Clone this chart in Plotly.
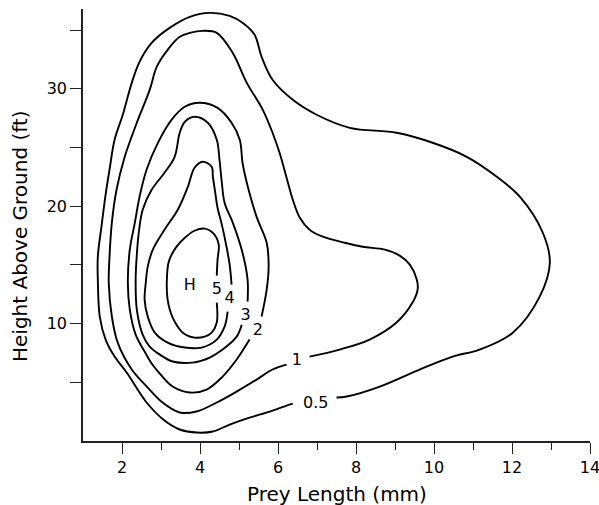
import plotly.graph_objects as go

# Contour lines (x = prey length mm, y = height ft)
c05_x = [7.50, 7.76, 8.61, 9.63, 10.48, 11.17, 12.02, 12.71, 12.97, 12.79, 12.20, 11.61, 10.84, 9.89, 9.04, 7.84,
         6.99, 6.38, 5.86, 5.58, 5.40, 5.09, 4.76, 4.25, 3.74, 3.22, 2.76, 2.45, 2.25, 2.02, 1.81, 1.68, 1.58, 1.48,
         1.38, 1.38, 1.43, 1.58, 1.81, 2.12, 2.63, 3.09, 3.48, 3.92, 4.33, 4.76, 5.27, 5.79, 6.22, 6.38]
c05_y = [3.70, 3.79, 4.64, 6.09, 7.19, 7.79, 9.23, 12.30, 15.19, 17.74, 20.81, 22.51, 24.21, 25.49, 26.26, 26.68,
         27.79, 29.06, 30.77, 32.72, 34.60, 35.62, 36.21, 36.47, 36.13, 35.19, 33.91, 32.30, 30.51, 27.79, 25.66,
         23.11, 20.98, 18.43, 15.70, 13.74, 10.60, 8.64, 7.19, 5.83, 3.28, 1.74, 0.98, 0.72, 0.81, 1.40, 1.99, 2.50,
         3.02, 3.19]

c1_x = [6.81, 7.58, 8.35, 9.04, 9.45, 9.58, 9.56, 9.38, 9.12, 8.74, 8.17, 7.71, 7.15, 6.81, 6.56, 6.38, 6.22, 6.04,
        5.86, 5.61, 5.20, 4.84, 4.43, 4.07, 3.74, 3.48, 3.17, 2.89, 2.71, 2.38, 2.07, 1.86, 1.74, 1.68, 1.66, 1.74,
        1.89, 2.25, 2.66, 3.04, 3.48, 3.91, 4.43, 4.94, 5.45, 5.86, 6.22]
c1_y = [7.19, 7.79, 8.64, 10.09, 11.79, 12.89, 13.74, 15.02, 15.79, 16.30, 16.55, 16.89, 17.40, 18.00, 19.02, 20.55,
        22.43, 24.55, 26.26, 28.21, 30.51, 33.06, 34.77, 34.94, 34.77, 34.43, 33.32, 31.87, 29.91, 27.11, 24.21,
        21.40, 18.60, 15.70, 13.49, 10.60, 8.38, 6.09, 4.55, 3.28, 2.43, 2.51, 3.28, 4.21, 5.23, 6.09, 6.51]

c2_x = [5.58, 5.71, 5.76, 5.71, 5.45, 5.20, 5.09, 5.02, 4.81, 4.45, 3.99, 3.61, 3.27, 2.92, 2.63, 2.45, 2.33, 2.20,
        2.15, 2.20, 2.35, 2.58, 2.76, 2.97, 3.30, 3.74, 4.17, 4.58, 4.94, 5.27]
c2_y = [10.60, 12.89, 14.85, 16.89, 19.11, 22.00, 23.70, 25.66, 27.11, 28.38, 28.81, 28.47, 27.36, 25.40, 23.11,
        20.81, 18.60, 16.30, 13.49, 11.19, 9.06, 7.62, 6.60, 5.74, 4.64, 4.13, 4.38, 5.49, 6.94, 8.64]

c3_x = [5.22, 5.22, 5.09, 4.84, 4.63, 4.56, 4.50, 4.43, 4.20, 3.86, 3.61, 3.48, 3.35, 3.09, 2.76, 2.53, 2.43, 2.38,
        2.35, 2.38, 2.53, 2.71, 2.97, 3.30, 3.81, 4.25, 4.58, 4.94, 5.07]
c3_y = [11.87, 13.74, 16.04, 18.60, 20.30, 22.00, 23.96, 25.66, 27.11, 27.62, 27.19, 26.26, 24.21, 22.85, 21.40,
        19.70, 17.74, 15.87, 13.74, 11.19, 9.06, 8.04, 7.36, 6.77, 6.68, 7.11, 7.79, 8.89, 9.91]

c4_x = [4.81, 4.76, 4.68, 4.56, 4.45, 4.38, 4.33, 4.30, 4.07, 3.86, 3.69, 3.43, 3.09, 2.79, 2.66, 2.61, 2.58, 2.66,
        2.84, 3.17, 3.61, 4.04, 4.43, 4.63, 4.71]
c4_y = [13.32, 15.02, 16.55, 18.43, 19.87, 21.40, 22.51, 23.36, 23.79, 23.28, 21.66, 19.70, 18.00, 16.30, 14.85,
        13.49, 12.04, 10.60, 9.23, 8.38, 7.96, 7.96, 8.64, 9.74, 11.02]

c5_x = [4.43, 4.43, 4.30, 4.12, 3.86, 3.56, 3.30, 3.17, 3.15, 3.20, 3.38, 3.61, 3.86, 4.12, 4.35, 4.48, 4.45, 4.43]
c5_y = [11.79, 10.09, 9.23, 8.89, 8.81, 9.23, 10.51, 12.04, 13.74, 15.28, 16.47, 17.32, 17.91, 18.09, 17.66, 16.72,
        15.45, 14.09]

label_text = ["H", "5", "4", "3", "2", "1", "0.5"]
label_x = [3.74, 4.43, 4.76, 5.17, 5.48, 6.48, 6.97]
label_y = [13.23, 12.89, 12.13, 10.68, 9.40, 6.85, 3.19]

x_ticks = [2, 4, 6, 8, 10, 12, 14]
x_minor = [3, 5, 7, 9, 11, 13]
y_ticks = [10, 20, 30]
y_minor = [5, 15, 25, 35]

x_title = "Prey Length (mm)"
y_title = "Height Above Ground (ft)"

FONT = "DejaVu Sans"
fig = go.Figure()
for xs, ys in [(c05_x, c05_y), (c1_x, c1_y), (c2_x, c2_y), (c3_x, c3_y), (c4_x, c4_y), (c5_x, c5_y)]:
    fig.add_trace(go.Scatter(x=xs, y=ys, mode="lines",
                             line=dict(color="black", width=1.9, shape="spline", smoothing=1.0),
                             hoverinfo="skip", showlegend=False))

fig.add_trace(go.Scatter(x=label_x, y=label_y, mode="text", text=label_text,
                         textfont=dict(family=FONT, size=16, color="black"),
                         textposition="middle center", showlegend=False, hoverinfo="skip"))

axis_common = dict(ticks="outside", tickwidth=1.3, tickcolor="#222", showline=True, linecolor="#222",
                   linewidth=1.5, showgrid=False, zeroline=False, automargin=False,
                   ticklabeloverflow="allow",
                   tickfont=dict(family=FONT, size=16, color="black"))

fig.update_layout(
    width=599, height=505,
    margin=dict(l=83, r=9, t=9, b=64, autoexpand=False),
    paper_bgcolor="white", plot_bgcolor="white",
    font=dict(family=FONT, color="black"),
    xaxis=dict(range=[1, 14], tickvals=x_ticks, ticklen=11,
               minor=dict(tickvals=x_minor, ticks="outside", ticklen=7, tickwidth=1.3, tickcolor="#222",
                          showgrid=False),
               **axis_common),
    yaxis=dict(range=[0, 36.8], tickvals=y_ticks, ticklen=11,
               minor=dict(tickvals=y_minor, ticks="outside", ticklen=11, tickwidth=1.3, tickcolor="#222",
                          showgrid=False),
               **axis_common),
    annotations=[
        dict(text=x_title, xref="paper", yref="paper", x=0.5, y=-0.1227, xanchor="center", yanchor="middle",
             showarrow=False, font=dict(family=FONT, size=20, color="black")),
        dict(text=y_title, xref="paper", yref="paper", x=-0.1243, y=0.4745, xanchor="center", yanchor="middle",
             textangle=-90, showarrow=False, font=dict(family=FONT, size=20, color="black")),
    ],
)

fig.write_html("out.html", config={"displayModeBar": False},
               post_script="document.body.style.margin='0';document.body.style.overflow='hidden';")
